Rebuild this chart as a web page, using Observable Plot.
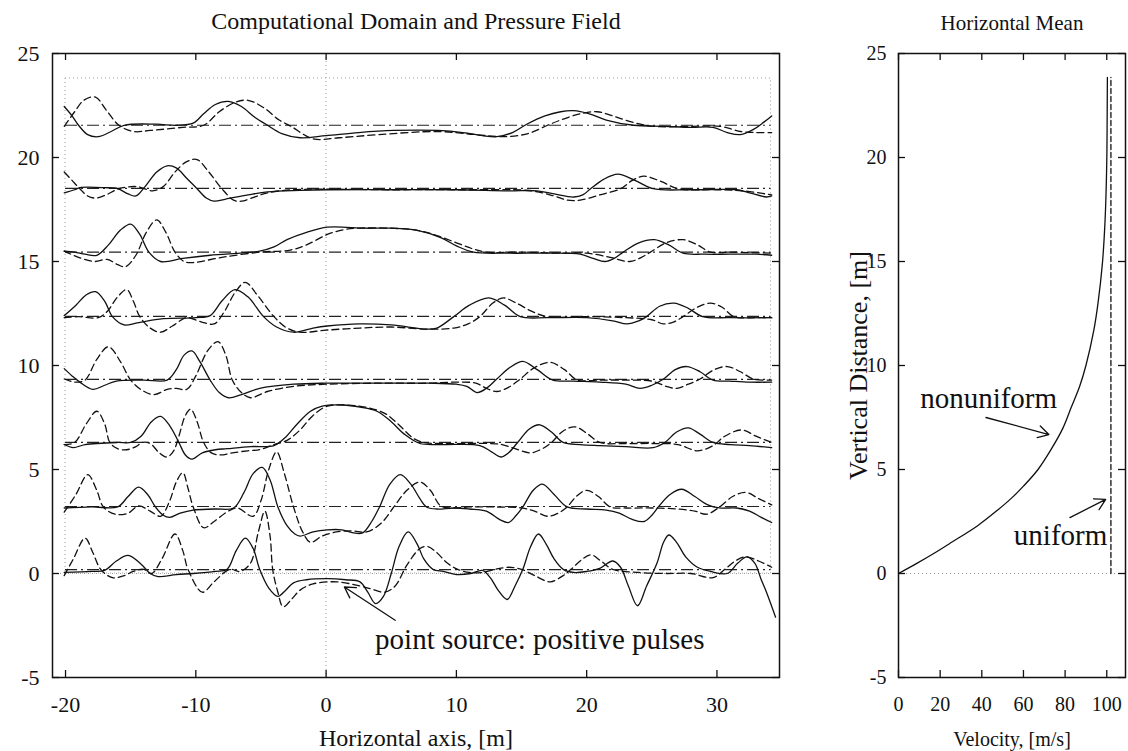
<!DOCTYPE html>
<html><head><meta charset="utf-8">
<script src="https://cdn.jsdelivr.net/npm/d3@7"></script>
<script src="https://cdn.jsdelivr.net/npm/@observablehq/plot@0.6"></script>
<style>
body{margin:0;background:#fff;}
#wrap{position:relative;width:1128px;height:751px;overflow:hidden;background:#fff;}
#left{position:absolute;left:0;top:0;}
#right{position:absolute;left:800px;top:0;}
svg{overflow:visible}
#wrap svg, #wrap svg text, #wrap svg g{font-family:'Liberation Serif','Times New Roman',serif !important;}
</style></head><body><div id="wrap"><div id="left"></div><div id="right"></div></div>
<script>
// ---------- data: left panel (pressure traces; solid = nonuniform, dashed = uniform) ----------
const xTicks = [-20, -10, 0, 10, 20, 30];
const yTicks = [-5, 0, 5, 10, 15, 20, 25];
const baselines = [0.19, 3.22, 6.3, 9.33, 12.36, 15.45, 18.52, 21.55];
const domainBox = [{x1: -20, x2: 34.15, y1: 0, y2: 23.8}];

const solid1 = [[-20.1,0.05],[-18,0.1],[-17,0.15],[-16.1,0.6],[-15.2,0.87],[-14.2,0.45],[-13.5,0.0],[-12.9,-0.15],[-11.5,-0.05],[-10.2,0.0],[-8.5,0.1],[-7.6,0.2],[-6.9,1.1],[-6.2,1.7],[-5.6,1.2],[-5.1,0.2],[-4.4,-0.7],[-3.7,-1.1],[-3.1,-0.8],[-2.5,-0.45],[-1.5,-0.3],[0.1,-0.25],[1.5,-0.3],[2.6,-0.4],[3.2,-0.9],[3.8,-1.45],[4.4,-1.1],[5.0,0.0],[5.6,1.3],[6.3,2.0],[7.0,1.4],[7.5,0.7],[8.2,0.2],[9,0.1],[10,-0.05],[11.1,0.0],[12,0.15],[12.6,-0.2],[13.2,-0.8],[13.9,-1.25],[14.5,-0.6],[15.1,0.2],[15.7,1.3],[16.3,1.9],[16.9,1.4],[17.5,0.7],[18.2,0.2],[19,0.05],[20,0.1],[21,0.25],[22,0.6],[22.6,0.3],[23.2,-0.6],[23.9,-1.55],[24.6,-0.6],[25.4,0.5],[25.9,1.5],[26.3,1.85],[26.9,1.5],[27.6,0.8],[28.5,0.3],[29.5,0.1],[30.8,0.0],[31.6,0.5],[32.3,0.8],[32.9,0.5],[33.4,-0.3],[33.8,-0.9],[34.5,-2.1]];
const dashed1 = [[-20.1,-0.1],[-19.4,0.7],[-18.5,1.7],[-17.9,1.0],[-17.3,0.2],[-16.4,-0.2],[-15.5,-0.1],[-14.8,0.1],[-14.0,0.2],[-13.4,0.0],[-12.6,0.7],[-11.6,1.9],[-11.0,1.1],[-10.6,0.2],[-9.5,-0.9],[-8.6,-0.4],[-7.4,0.2],[-6.6,0.1],[-5.8,0.5],[-5.2,2.0],[-4.7,3.0],[-4.3,1.8],[-4.1,0.2],[-3.7,-0.9],[-3.3,-1.6],[-2.6,-1.2],[-2,-0.8],[-1,-0.5],[0.8,-0.4],[2.6,-0.6],[3.5,-0.75],[4.5,-0.9],[5.3,-0.6],[6.2,0.4],[7.2,1.2],[7.8,1.3],[8.5,1.0],[9.3,0.5],[10.1,0.2],[11,0.05],[12,0.05],[13,0.2],[14,0.3],[15,0.2],[16,-0.1],[17.2,-0.4],[18.2,-0.1],[18.8,0.2],[19.5,0.6],[20.3,0.9],[21.1,0.6],[22,0.2],[24,0.05],[26,0.0],[28,0.0],[29.7,-0.2],[30.6,0.2],[31.4,0.6],[32.2,0.8],[33.2,0.6],[34.2,0.3]];

const solid2 = [[-20.1,3.15],[-18,3.2],[-16,3.2],[-15.2,3.7],[-14.4,4.15],[-13.7,3.8],[-13.1,3.2],[-12.5,2.8],[-12,2.7],[-11.2,2.9],[-10.2,3.05],[-8.5,3.1],[-7.1,3.15],[-6.3,3.9],[-5.6,4.8],[-4.9,5.1],[-4.3,4.5],[-3.7,3.2],[-3.0,2.3],[-2.4,1.9],[-2,1.8],[-1,2.0],[0.1,2.1],[1.2,2.1],[2.1,1.95],[2.8,1.95],[3.5,2.5],[4.1,3.2],[4.9,4.3],[5.7,4.75],[6.5,4.3],[7.2,3.6],[7.7,3.2],[8.5,3.1],[9.8,3.15],[11,3.1],[12.3,3.0],[13.3,2.6],[14,2.45],[14.6,2.8],[15.1,3.2],[15.9,4.0],[16.6,4.3],[17.5,3.8],[18.5,3.2],[20,3.1],[21.5,3.05],[22.5,2.9],[23.5,2.6],[24.4,2.5],[25.0,2.8],[25.5,3.2],[26.4,3.8],[27.3,4.05],[28.3,3.7],[29.3,3.3],[30.2,3.15],[31.5,3.15],[32.5,3.0],[33.4,2.7],[34.2,2.45]];
const dashed2 = [[-20.1,2.95],[-19.2,3.8],[-18.3,4.75],[-17.6,4.0],[-17.1,3.2],[-16.2,2.85],[-15.2,2.9],[-14.4,3.25],[-13.5,3.0],[-12.7,2.75],[-12,3.5],[-11.5,4.4],[-11,4.85],[-10.6,4.1],[-10.2,3.2],[-9.4,2.2],[-8.6,2.5],[-7.5,3.0],[-6.8,3.15],[-5.6,2.75],[-5,3.5],[-4.4,5.0],[-3.8,5.85],[-3.2,4.8],[-2.5,3.2],[-1.8,2.0],[-1.2,1.5],[-0.3,1.8],[0.8,2.0],[2,2.05],[3.1,2.0],[4.2,2.4],[5.2,3.2],[6.2,4.0],[7.2,4.4],[8,4.0],[8.8,3.25],[9.8,3.15],[11,3.2],[13,3.2],[15,3.15],[16,3.0],[17,2.75],[17.8,2.9],[18.5,3.2],[19.2,3.7],[20,4.0],[20.9,3.7],[21.8,3.2],[23,3.15],[25,3.15],[27,3.1],[28.3,3.0],[29.2,2.85],[30.2,3.2],[31.2,3.7],[32.2,3.9],[33.2,3.6],[34.2,3.3]];

const solid3 = [[-20.1,6.2],[-19.4,6.05],[-18.5,6.2],[-16,6.3],[-15,6.3],[-14.2,6.6],[-13.4,7.3],[-12.7,7.55],[-12,7.1],[-11.3,6.3],[-10.8,5.7],[-10.3,5.5],[-9.5,5.8],[-8.5,5.95],[-7.6,6.0],[-5.8,6.1],[-4,6.15],[-3.2,6.5],[-2.2,7.2],[-1.2,7.8],[-0.3,8.05],[1.3,8.1],[2.6,8.0],[3.9,7.8],[5,7.3],[6,6.7],[7.2,6.25],[9,6.2],[11.8,6.15],[12.7,5.85],[13.4,5.6],[14.0,5.8],[14.7,6.3],[15.6,6.95],[16.4,7.15],[17.3,6.8],[18.2,6.3],[19.5,6.2],[21,6.15],[23,6.1],[25.1,6.05],[26,6.3],[26.9,6.8],[27.8,7.0],[28.7,6.7],[29.7,6.3],[31,6.2],[32.5,6.15],[34.2,6.05]];
const dashed3 = [[-20.1,6.2],[-19.3,6.3],[-18.4,7.2],[-17.6,7.8],[-17,7.2],[-16.6,6.3],[-16,6.0],[-15.3,5.95],[-14.6,6.1],[-14.1,6.3],[-13.5,6.25],[-12.8,5.8],[-12.2,5.6],[-11.7,5.9],[-11.3,6.6],[-10.8,7.6],[-10.4,7.9],[-9.9,7.3],[-9.4,6.3],[-8.8,5.8],[-8.1,5.7],[-7.2,5.8],[-6,5.9],[-5.1,5.95],[-4,6.2],[-3,6.4],[-2,6.9],[-1,7.6],[0.1,8.05],[1.5,8.1],[3,8.0],[4.5,7.7],[5.5,7.2],[6.7,6.5],[7.5,6.3],[9,6.25],[11,6.25],[12.5,6.25],[13.5,6.2],[14.5,6.0],[15.7,5.8],[16.6,6.0],[17.3,6.3],[18.2,6.85],[19.1,7.05],[20.1,6.7],[21,6.3],[23,6.25],[25,6.25],[27,6.2],[28.5,5.9],[29.7,6.15],[30.6,6.6],[31.9,6.9],[33,6.6],[34.2,6.3]];

const solid4 = [[-20.1,9.85],[-19.5,9.5],[-18.9,9.2],[-17.9,8.85],[-17,9.05],[-16.1,9.25],[-14,9.3],[-12.2,9.3],[-11.5,9.8],[-10.9,10.5],[-10.3,10.7],[-9.7,10.2],[-8.9,9.3],[-8.2,8.7],[-7.5,8.45],[-6.5,8.6],[-5.1,8.9],[-2.5,9.1],[0,9.15],[3,9.15],[6,9.15],[8,9.15],[10,9.1],[10.8,9.0],[11.6,8.7],[12.4,8.95],[13.1,9.35],[14.1,9.9],[15.1,10.2],[16.2,9.8],[17.4,9.3],[19,9.25],[21,9.2],[23,9.1],[24.1,8.9],[25.0,9.05],[25.9,9.35],[26.8,9.8],[27.7,9.95],[28.7,9.7],[29.7,9.3],[31,9.25],[32.5,9.2],[34.2,9.2]];
const dashed4 = [[-20.1,9.35],[-19.3,9.2],[-18.5,9.3],[-17.6,10.3],[-16.7,10.9],[-15.8,10.2],[-15,9.3],[-14.1,8.8],[-13.2,8.6],[-12.2,8.85],[-11.5,8.9],[-10.7,8.85],[-10,9.5],[-9.1,10.7],[-8.3,11.15],[-7.7,10.5],[-7.2,9.3],[-6.5,8.7],[-5.8,8.45],[-4.5,8.75],[-2.5,9.0],[0,9.1],[4,9.15],[8,9.15],[10,9.2],[11.5,9.15],[12.3,8.9],[13.1,8.75],[14,8.95],[14.9,9.35],[16,9.9],[17.2,10.15],[18.3,9.8],[19.3,9.3],[21,9.3],[23,9.3],[25,9.25],[26.1,9.0],[26.9,8.9],[27.8,9.1],[28.7,9.35],[29.8,9.8],[30.8,9.95],[31.8,9.7],[32.8,9.35],[34.2,9.3]];

const solid5 = [[-20.1,12.4],[-19.2,12.9],[-18.4,13.4],[-17.7,13.55],[-17,13.1],[-16.4,12.35],[-15.5,11.95],[-14.5,12.05],[-12.5,12.25],[-10,12.3],[-8.9,12.4],[-8,13.1],[-7,13.65],[-6,13.3],[-4.8,12.35],[-3.8,11.85],[-2.5,11.6],[-1,11.8],[0.1,11.9],[2.6,12.0],[5,11.95],[7.7,11.75],[8.5,11.8],[9.8,12.35],[11,12.9],[12.5,13.25],[13.7,12.9],[14.9,12.35],[17,12.3],[20,12.3],[22,12.15],[23.1,12.0],[24,12.15],[24.6,12.35],[25.6,12.85],[26.7,13.0],[27.8,12.75],[28.9,12.35],[31,12.3],[34.2,12.3]];
const dashed5 = [[-20.1,12.3],[-19,12.35],[-17.5,12.3],[-16.8,12.6],[-16,13.3],[-15.3,13.65],[-14.8,13.1],[-14.3,12.35],[-13.5,11.8],[-12.7,11.6],[-11.8,11.9],[-10.7,12.3],[-9.6,12.1],[-8.6,12.0],[-7.8,12.6],[-7,13.5],[-6.2,14.0],[-5.3,13.4],[-4,12.35],[-3,11.8],[-2,11.6],[0,11.7],[2.6,11.8],[5,11.85],[7.7,11.75],[9.8,11.8],[10.9,12.0],[11.8,12.35],[12.8,13.0],[13.6,13.25],[14.6,13.0],[15.8,12.6],[17,12.35],[20,12.35],[23,12.3],[25,12.2],[25.9,12.0],[26.7,12.1],[27.4,12.35],[28.5,12.8],[29.5,13.0],[30.4,12.8],[31.3,12.35],[33,12.3],[34.2,12.3]];

const solid6 = [[-20.1,15.5],[-19.3,15.45],[-18.5,15.35],[-17.6,15.3],[-16.7,15.8],[-15.8,16.5],[-15,16.8],[-14.3,16.3],[-13.6,15.45],[-12.7,15.0],[-11,15.15],[-8.9,15.3],[-5.1,15.5],[-4,15.7],[-3,16.05],[-1.5,16.4],[0.1,16.65],[3,16.6],[5,16.6],[7,16.5],[8.8,16.15],[10,15.75],[11.3,15.45],[14,15.4],[17,15.4],[19.5,15.35],[20.5,15.15],[21.4,15.0],[22.1,15.15],[22.8,15.45],[24,15.9],[25.2,16.05],[26.3,15.8],[27.4,15.4],[29,15.35],[31,15.35],[33,15.35],[34.2,15.3]];
const dashed6 = [[-20.1,15.5],[-19,15.2],[-17.8,15.0],[-16.8,15.1],[-16,14.85],[-15.4,14.75],[-14.6,15.3],[-13.8,16.4],[-13,17.0],[-12.3,16.4],[-11.6,15.45],[-10.9,15.0],[-10.2,14.95],[-8,15.2],[-5.1,15.45],[-2.75,15.55],[-1.5,15.8],[0.1,16.3],[1.5,16.55],[2.4,16.6],[5,16.6],[7,16.5],[8.5,16.25],[10,15.9],[11.3,15.6],[12.3,15.45],[15,15.45],[18,15.4],[20,15.4],[21.8,15.2],[23.3,15.0],[24.2,15.2],[24.9,15.45],[26.1,15.9],[27.4,16.05],[28.5,15.8],[29.5,15.45],[31,15.45],[34.2,15.4]];

const solid7 = [[-20.1,18.3],[-19.3,18.45],[-18.9,18.55],[-17,18.55],[-16,18.5],[-15.2,18.25],[-14.6,18.15],[-13.9,18.6],[-13,19.3],[-12.2,19.6],[-11.5,19.5],[-10.7,19.0],[-9.9,18.5],[-9.2,18.05],[-8.6,17.9],[-7.7,18.0],[-6,18.2],[-4.5,18.35],[-2,18.42],[0.1,18.45],[5,18.45],[10,18.45],[14,18.4],[16.2,18.4],[17.5,18.25],[19,18.1],[19.7,18.2],[20.3,18.5],[21.3,18.95],[22.4,19.2],[23.7,18.9],[25.1,18.5],[28,18.45],[31.5,18.45],[32.5,18.3],[33.8,18.1],[34.2,18.15]];
const dashed7 = [[-20.1,19.3],[-19.5,18.9],[-18.9,18.5],[-18.3,18.15],[-17.7,18.05],[-16.9,18.2],[-15.9,18.5],[-14.5,18.6],[-13.3,18.4],[-12.5,18.6],[-11.6,19.3],[-10.7,19.8],[-9.9,19.9],[-9,19.3],[-8,18.5],[-7.1,17.95],[-6.5,17.9],[-5.5,18.1],[-4.5,18.3],[-2.5,18.45],[5,18.45],[10,18.45],[15.7,18.4],[17.5,18.15],[18.5,17.95],[19.5,17.95],[21,18.2],[22.6,18.5],[23.5,18.9],[24.4,19.1],[25.7,18.85],[27,18.5],[30,18.45],[32,18.4],[34.2,18.2]];

const solid8 = [[-20.1,22.45],[-19.5,22.0],[-19,21.55],[-18.3,21.1],[-17.5,21.0],[-16.5,21.25],[-15.5,21.55],[-13,21.6],[-11.5,21.55],[-10.2,21.65],[-9.4,22.1],[-8.5,22.55],[-7.5,22.7],[-6.5,22.45],[-5.5,21.95],[-4.5,21.55],[-3.4,21.15],[-2,20.95],[0,21.05],[2.5,21.2],[5.2,21.3],[8.6,21.3],[10.5,21.2],[12,21.05],[13.1,21.0],[14.3,21.2],[15.4,21.6],[16.8,22.0],[18,22.2],[19,22.25],[20.2,22.1],[21.5,21.8],[23.6,21.55],[26,21.5],[28,21.45],[29.7,21.45],[30.8,21.2],[31.8,21.1],[32.8,21.35],[33.6,21.7],[34.2,22.0]];
const dashed8 = [[-20.1,21.5],[-19.3,22.2],[-18.6,22.75],[-17.7,22.9],[-16.9,22.3],[-15.9,21.55],[-14.8,21.25],[-13.5,21.3],[-11,21.45],[-9.4,21.55],[-8.2,22.2],[-7,22.65],[-6,22.75],[-4.8,22.4],[-3.6,21.8],[-2.7,21.5],[-1,20.9],[1,20.95],[4,21.1],[8.6,21.25],[11.5,21.1],[13.6,21.0],[15.5,21.15],[17,21.55],[18,21.8],[19.5,22.1],[20.8,22.2],[22,22.0],[23.5,21.7],[25.1,21.5],[28,21.5],[30.2,21.5],[31.2,21.35],[31.8,21.25],[33,21.2],[34.2,21.2]];

const leftNotes = [{x: 3.76, y: -3.65, text: "point source: positive pulses"}];
const leftArrows = [{x1: 5.3, y1: -2.25, x2: 1.4, y2: -0.65}];

// ---------- data: right panel (horizontal mean velocity) ----------
const vTicks = [0, 20, 40, 60, 80, 100];
const heights     = [0, 0.5, 1, 1.5, 2.3, 3, 3.6, 4.2, 5, 6, 7, 8, 9, 10, 11.7, 13, 14.9, 17, 19.75, 22, 23.85];
const nonuniformU = [0, 9, 17.5, 25.5, 38, 47, 54, 60, 67, 73.5, 79, 83, 87, 90, 93.8, 95.8, 97.9, 99.2, 100, 100.2, 100.3];
const uniformU = 102;
const rightNotes = [{x: 10.4, y: 7.98, text: "nonuniform"}, {x: 55.4, y: 1.39, text: "uniform"}];
const rightArrows = [{x1: 42, y1: 7.5, x2: 72.2, y2: 6.68}, {x1: 82.3, y1: 2.69, x2: 99.5, y2: 3.56}];

// ---------- build tables ----------
const solids = [solid1, solid2, solid3, solid4, solid5, solid6, solid7, solid8];
const dasheds = [dashed1, dashed2, dashed3, dashed4, dashed5, dashed6, dashed7, dashed8];
const solidRows = solids.flatMap((a, i) => a.map(([x, y]) => ({x, y, k: i})));
const dashedRows = dasheds.flatMap((a, i) => a.map(([x, y]) => ({x, y, k: i})));
const profile = heights.map((z, i) => ({u: nonuniformU[i], z}));
const uniformRows = [{u: uniformU, z: heights[0]}, {u: uniformU, z: heights[heights.length - 1]}];

const H = 751, mT = 53, mB = 74;
const frameH = H - mT - mB;
const serif = "'Liberation Serif', 'Times New Roman', serif";
const dotted = {stroke: "#9a9a9a", strokeWidth: 1, strokeDasharray: "1,3"};

// ---------- left plot ----------
const W1 = 800, mL1 = 52, mR1 = 21;
const frameW1 = W1 - mL1 - mR1;
const left = Plot.plot({
  width: W1, height: H, marginLeft: mL1, marginRight: mR1, marginTop: mT, marginBottom: mB,
  style: {fontFamily: serif, fontSize: "22px", color: "#111", background: "white", overflow: "visible"},
  x: {domain: [-21, 34.8], ticks: xTicks, tickSize: 0, tickPadding: 19, tickFormat: d => String(d), label: null},
  y: {domain: [-5, 25], ticks: yTicks, tickSize: 0, tickPadding: 13, tickFormat: d => String(d), label: null},
  marks: [
    Plot.rect(domainBox, {x1: "x1", x2: "x2", y1: "y1", y2: "y2", fill: "none", ...dotted}),
    Plot.ruleX([0], dotted),
    Plot.ruleY([0], dotted),
    Plot.ruleY(baselines, {y: d => d, x1: domainBox[0].x1, x2: domainBox[0].x2, stroke: "#222", strokeWidth: 1.2, strokeDasharray: "12,4,2,4"}),
    Plot.line(dashedRows, {x: "x", y: "y", z: "k", curve: "catmull-rom", stroke: "#111", strokeWidth: 1.3, strokeDasharray: "7,4"}),
    Plot.line(solidRows, {x: "x", y: "y", z: "k", curve: "catmull-rom", stroke: "#111", strokeWidth: 1.3}),
    Plot.tickX(xTicks, {x: d => d, insetTop: frameH - 7, stroke: "#111", strokeWidth: 1.3}),
    Plot.tickX(xTicks, {x: d => d, insetBottom: frameH - 7, stroke: "#111", strokeWidth: 1.3}),
    Plot.tickY(yTicks, {y: d => d, insetRight: frameW1 - 7, stroke: "#111", strokeWidth: 1.3}),
    Plot.tickY(yTicks, {y: d => d, insetLeft: frameW1 - 7, stroke: "#111", strokeWidth: 1.3}),
    Plot.frame({stroke: "#111", strokeWidth: 1.5}),
    Plot.arrow(leftArrows, {x1: "x1", y1: "y1", x2: "x2", y2: "y2", stroke: "#111", strokeWidth: 1.3, headLength: 14}),
    Plot.text(leftNotes, {x: "x", y: "y", text: "text", textAnchor: "start", lineAnchor: "bottom", fontSize: 29, fill: "#111"}),
    Plot.text(["Computational Domain and Pressure Field"], {frameAnchor: "top", dy: -25, lineAnchor: "bottom", fontSize: 24, fill: "#111"}),
    Plot.text(["Horizontal axis, [m]"], {frameAnchor: "bottom", dy: 68, lineAnchor: "bottom", fontSize: 24, fill: "#111"})
  ]
});
document.getElementById("left").appendChild(left);

// ---------- right plot ----------
const W2 = 328, mL2 = 98, mR2 = 3;
const frameW2 = W2 - mL2 - mR2;
const right = Plot.plot({
  width: W2, height: H, marginLeft: mL2, marginRight: mR2, marginTop: mT, marginBottom: mB,
  style: {fontFamily: serif, fontSize: "20px", color: "#111", background: "white", overflow: "visible"},
  x: {domain: [0, 109], ticks: vTicks, tickSize: 0, tickPadding: 19, tickFormat: d => String(d), label: null},
  y: {domain: [-5, 25], ticks: yTicks, tickSize: 0, tickPadding: 12, tickFormat: d => String(d), label: null},
  marks: [
    Plot.ruleY([0], dotted),
    Plot.line(uniformRows, {x: "u", y: "z", stroke: "#111", strokeWidth: 1.3, strokeDasharray: "5,3"}),
    Plot.line(profile, {x: "u", y: "z", curve: "catmull-rom", stroke: "#111", strokeWidth: 1.3}),
    Plot.tickX(vTicks, {x: d => d, insetTop: frameH - 7, stroke: "#111", strokeWidth: 1.3}),
    Plot.tickX(vTicks, {x: d => d, insetBottom: frameH - 7, stroke: "#111", strokeWidth: 1.3}),
    Plot.tickY(yTicks, {y: d => d, insetRight: frameW2 - 7, stroke: "#111", strokeWidth: 1.3}),
    Plot.tickY(yTicks, {y: d => d, insetLeft: frameW2 - 7, stroke: "#111", strokeWidth: 1.3}),
    Plot.frame({stroke: "#111", strokeWidth: 1.5}),
    Plot.arrow(rightArrows, {x1: "x1", y1: "y1", x2: "x2", y2: "y2", stroke: "#111", strokeWidth: 1.3, headLength: 14}),
    Plot.text(rightNotes, {x: "x", y: "y", text: "text", textAnchor: "start", lineAnchor: "bottom", fontSize: 29, fill: "#111"}),
    Plot.text(["Horizontal Mean"], {frameAnchor: "top", dy: -24, lineAnchor: "bottom", fontSize: 21, fill: "#111"}),
    Plot.text(["Velocity, [m/s]"], {frameAnchor: "bottom", dy: 68, lineAnchor: "bottom", fontSize: 20, fill: "#111"}),
    Plot.text(["Vertical Distance, [m]"], {frameAnchor: "left", dx: -40, rotate: -90, textAnchor: "middle", lineAnchor: "middle", fontSize: 26, fill: "#111"})
  ]
});
document.getElementById("right").appendChild(right);
</script></body></html>
